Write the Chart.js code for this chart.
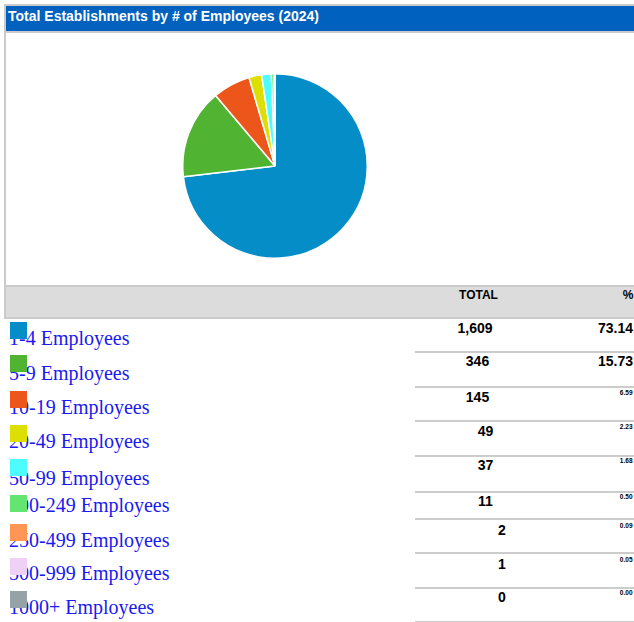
<!DOCTYPE html>
<html><head><meta charset="utf-8">
<script src="https://cdn.jsdelivr.net/npm/chart.js@4.4.0/dist/chart.umd.min.js"></script>
<style>
html,body{margin:0;padding:0;background:#fff;width:634px;height:622px;overflow:hidden;position:relative;font-family:"Liberation Sans",Arial,sans-serif;}
.abs{position:absolute;white-space:nowrap;}
</style></head><body>
<div id="page"></div>
<canvas id="pie" width="190" height="190" style="position:absolute;left:180px;top:71px;width:190px;height:190px"></canvas>
<script>
// ---- data ----
const title = 'Total Establishments by # of Employees (2024)';
const categories = ['1-4 Employees','5-9 Employees','10-19 Employees','20-49 Employees','50-99 Employees','100-249 Employees','250-499 Employees','500-999 Employees','1000+ Employees'];
const totals = [1609, 346, 145, 49, 37, 11, 2, 1, 0];
const percents = ['73.14','15.73','6.59','2.23','1.68','0.50','0.09','0.05','0.00'];
const columnHeaders = ['TOTAL', '%'];

// ---- style ----
const colors = ['#058DC7','#50B432','#ED561B','#DDDF00','#4DFCFC','#64E572','#FF9655','#EFD0F6','#95A3A6'];
const rowSquareTop = [322,355,391,425,459,495,524,558,591];
const rowTextBaseline = [345,380,414,448,485,512,547,580,614];
const rowLineTop = [351,386,420,455,491,518,552,587,621];

const page = document.getElementById('page');
function box(l,t,w,h,bg){const d=document.createElement('div');d.className='abs';d.style.cssText+=`left:${l}px;top:${t}px;width:${w}px;height:${h}px;background:${bg}`;page.appendChild(d);return d;}
function txt(s,o){
  const d=document.createElement('div');d.className='abs';d.textContent=s;
  const serif=o.serif;const k=serif?0.8375:0.8465;
  d.style.fontFamily=serif?'"Liberation Serif","Times New Roman",serif':'"Liberation Sans",Arial,sans-serif';
  d.style.fontSize=o.size+'px';d.style.lineHeight=o.size+'px';
  d.style.fontWeight=o.bold?'bold':'normal';d.style.color=o.color||'#000';
  d.style.top=(o.baseline-k*o.size)+'px';
  if(o.align==='right'){d.style.right=(634-o.x)+'px';}
  else if(o.align==='center'){d.style.left=(o.x-100)+'px';d.style.width='200px';d.style.textAlign='center';}
  else d.style.left=o.x+'px';
  page.appendChild(d);return d;
}
const border='#cbcbcb';
box(4,4,630,2,border);
box(4,4,2,315,border);
box(6,6,628,25,'#0061BF');
box(6,31,628,2,border);
txt(title,{x:8,baseline:21,size:14,bold:true,color:'#fff'});
box(6,285,628,2,border);
box(6,287,628,30,'#DCDCDC');
box(4,317,630,2,border);
txt(columnHeaders[0],{x:478.5,baseline:299,size:12,bold:true,align:'center'});
txt(columnHeaders[1],{x:633.5,baseline:299,size:12,bold:true,align:'right'});

const numCenter={5:475,4:476,3:477.5,2:485.5,1:502};
categories.forEach((c,i)=>{
  txt(c,{x:9,baseline:rowTextBaseline[i],size:20,serif:true,color:'#1a1af0'});
  const sq=box(10,rowSquareTop[i],17,17,colors[i]);sq.style.zIndex=2;
  const ns=totals[i].toLocaleString('en-US');
  txt(ns,{x:numCenter[ns.length],baseline:rowSquareTop[i]+11,size:14,bold:true,align:'center'});
  const big=parseFloat(percents[i])>=10;
  if(big) txt(percents[i],{x:633,baseline:rowSquareTop[i]+11,size:14,bold:true,align:'right'});
  else txt(percents[i],{x:632.5,baseline:rowSquareTop[i]+4.7,size:6.5,bold:true,align:'right'});
  box(415,rowLineTop[i],219,2,'#cccccc');
});

new Chart(document.getElementById('pie'),{
  type:'pie',
  data:{labels:categories,datasets:[{data:totals,backgroundColor:colors,borderColor:'#ffffff',borderWidth:1.5}]},
  options:{responsive:false,animation:false,events:[],layout:{padding:2},
    plugins:{legend:{display:false},tooltip:{enabled:false}}}
});
</script>
</body></html>
